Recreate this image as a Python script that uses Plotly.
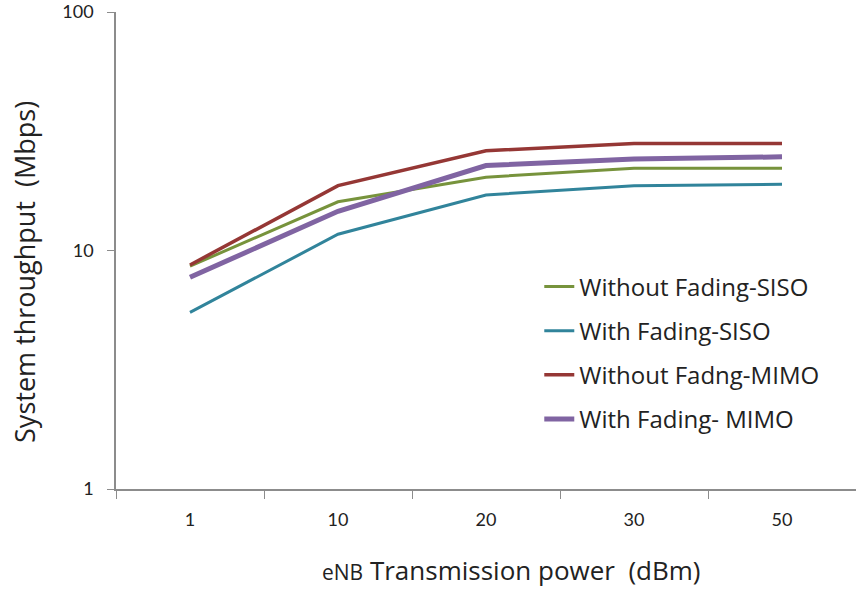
import plotly.graph_objects as go

categories = ["1", "10", "20", "30", "50"]
without_fading_siso = [8.6, 16.0, 20.3, 22.1, 22.1]
with_fading_siso = [5.5, 11.7, 17.1, 18.7, 18.95]
without_fading_mimo = [8.7, 18.7, 26.2, 28.1, 28.1]
with_fading_mimo = [7.72, 14.6, 22.7, 24.2, 24.7]

x_title = "<span style='font-size:21px'>eNB</span> Transmission power  (dBm)"
y_title = "System throughput  (Mbps)"

series = [
    ("Without Fading-SISO", without_fading_siso, "#77933C", 3),
    ("With Fading-SISO", with_fading_siso, "#31849B", 3),
    ("Without Fadng-MIMO", without_fading_mimo, "#953735", 3.5),
    ("With Fading- MIMO", with_fading_mimo, "#8064A2", 5),
]

fig = go.Figure()
for i, (name, vals, color, w) in enumerate(series):
    fig.add_trace(go.Scatter(
        x=categories, y=vals, mode="lines", name=name,
        line=dict(color=color, width=w), legendgroup=f"g{i}",
    ))

font = "Lato, 'Open Sans', sans-serif"
wide = "'Open Sans', Lato, sans-serif"
fig.update_layout(
    width=856, height=589,
    margin=dict(l=116, r=0, t=12, b=100),
    plot_bgcolor="white", paper_bgcolor="white",
    font=dict(family=font, size=18, color="#222222"),
    showlegend=True,
    legend=dict(x=0.572, y=0.471, xanchor="left", yanchor="top",
                bgcolor="rgba(0,0,0,0)",
                font=dict(family=wide, size=24, color="#222222"),
                tracegroupgap=10),
    xaxis=dict(
        type="category", range=[-0.5, 4.5], showgrid=False, showline=True,
        linecolor="#8c8c8c", linewidth=1.5, ticks="outside",
        tickson="boundaries", ticklen=8, tickcolor="#8c8c8c",
        tickfont=dict(size=18), ticklabelstandoff=14, zeroline=False,
    ),
    yaxis=dict(
        type="log", range=[0, 2], showgrid=False, showline=True,
        linecolor="#8c8c8c", linewidth=1.5, ticks="outside", ticklen=7,
        tickcolor="#8c8c8c", tickvals=[1, 10, 100], ticktext=["1", "10", "100"],
        tickfont=dict(size=18), ticklabelstandoff=10, zeroline=False,
    ),
    annotations=[
        dict(text=x_title, xref="paper", yref="paper", x=0.535, y=-0.17,
             xanchor="center", yanchor="middle", showarrow=False,
             font=dict(family=wide, size=26, color="#222222")),
        dict(text=y_title, xref="paper", yref="paper", x=-0.123, y=0.455,
             xanchor="center", yanchor="middle", showarrow=False, textangle=-90,
             font=dict(family=wide, size=27, color="#222222")),
    ],
)

fig.write_html("out.html")
